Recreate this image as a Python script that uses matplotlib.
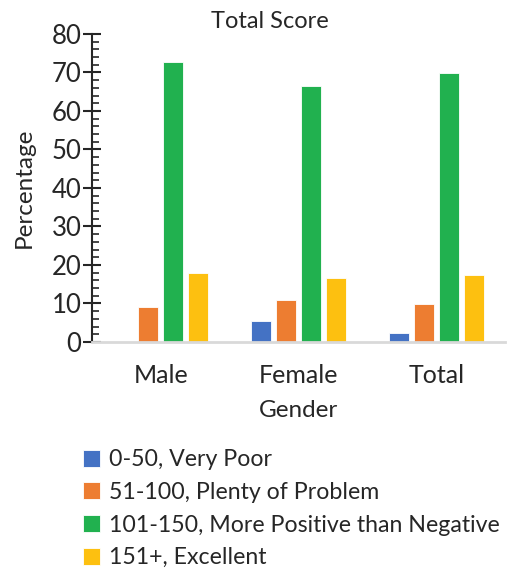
import matplotlib
matplotlib.use("Agg")
import matplotlib.pyplot as plt
import numpy as np
from matplotlib.ticker import MultipleLocator

categories = ["Male", "Female", "Total"]
series_names = ["0-50, Very Poor", "51-100, Plenty of Problem",
                "101-150, More Positive than Negative", "151+, Excellent"]
very_poor = [0.0, 5.4, 2.4]
plenty_problem = [9.1, 11.0, 9.9]
more_positive = [72.6, 66.5, 69.9]
excellent = [18.0, 16.6, 17.3]
colors = ["#4472C4", "#ED7D31", "#21B14F", "#FDC010"]

plt.rcParams['font.family'] = ['Lato', 'DejaVu Sans']
fig = plt.figure(figsize=(5.17, 5.70), dpi=100)
ax = fig.add_axes([0.178, 0.40, 0.799, 0.5404])

x = np.arange(len(categories))
step = 0.182
width = 0.145
all_series = [very_poor, plenty_problem, more_positive, excellent]
handles = []
for i, (vals, c, name) in enumerate(zip(all_series, colors, series_names)):
    h = ax.bar(x + (i - 1.5) * step, vals, width, color=c, label=name,
               edgecolor='white', linewidth=0.6)
    handles.append(h)

ax.set_xlim(-0.5, 2.5)
ax.set_ylim(0, 80)
ax.yaxis.set_major_locator(MultipleLocator(10))
ax.yaxis.set_minor_locator(MultipleLocator(2))
ax.tick_params(axis='y', which='major', direction='inout', length=13, width=1.5,
               labelsize=18.5, color='#262626', labelcolor='#262626', pad=1)
ax.tick_params(axis='y', which='minor', direction='in', length=5, width=1.2,
               color='#262626')
ax.set_xticks(x)
ax.set_xticklabels(categories)
ax.tick_params(axis='x', length=0, labelsize=18, labelcolor='#262626', pad=16)

for s in ['top', 'right']:
    ax.spines[s].set_visible(False)
ax.spines['left'].set_color('#262626')
ax.spines['left'].set_linewidth(1.5)
ax.spines['bottom'].set_color('#D9D9D9')
ax.spines['bottom'].set_linewidth(2)

ax.set_ylabel("Percentage", fontsize=17.5, color='#262626', labelpad=12)
ax.set_xlabel("Gender", fontsize=17.5, color='#262626', labelpad=9)
fig.text(0.522, 0.962, "Total Score", ha='center', va='center', fontsize=17, color='#262626')

fig.legend(handles=handles, labels=series_names, loc='upper left',
           bbox_to_anchor=(0.142, 0.228), frameon=False, fontsize=16.7,
           handlelength=0.75, handleheight=0.75, handletextpad=0.4,
           labelspacing=0.5, borderaxespad=0, labelcolor='#262626')

fig.savefig("out.png", dpi=100)
